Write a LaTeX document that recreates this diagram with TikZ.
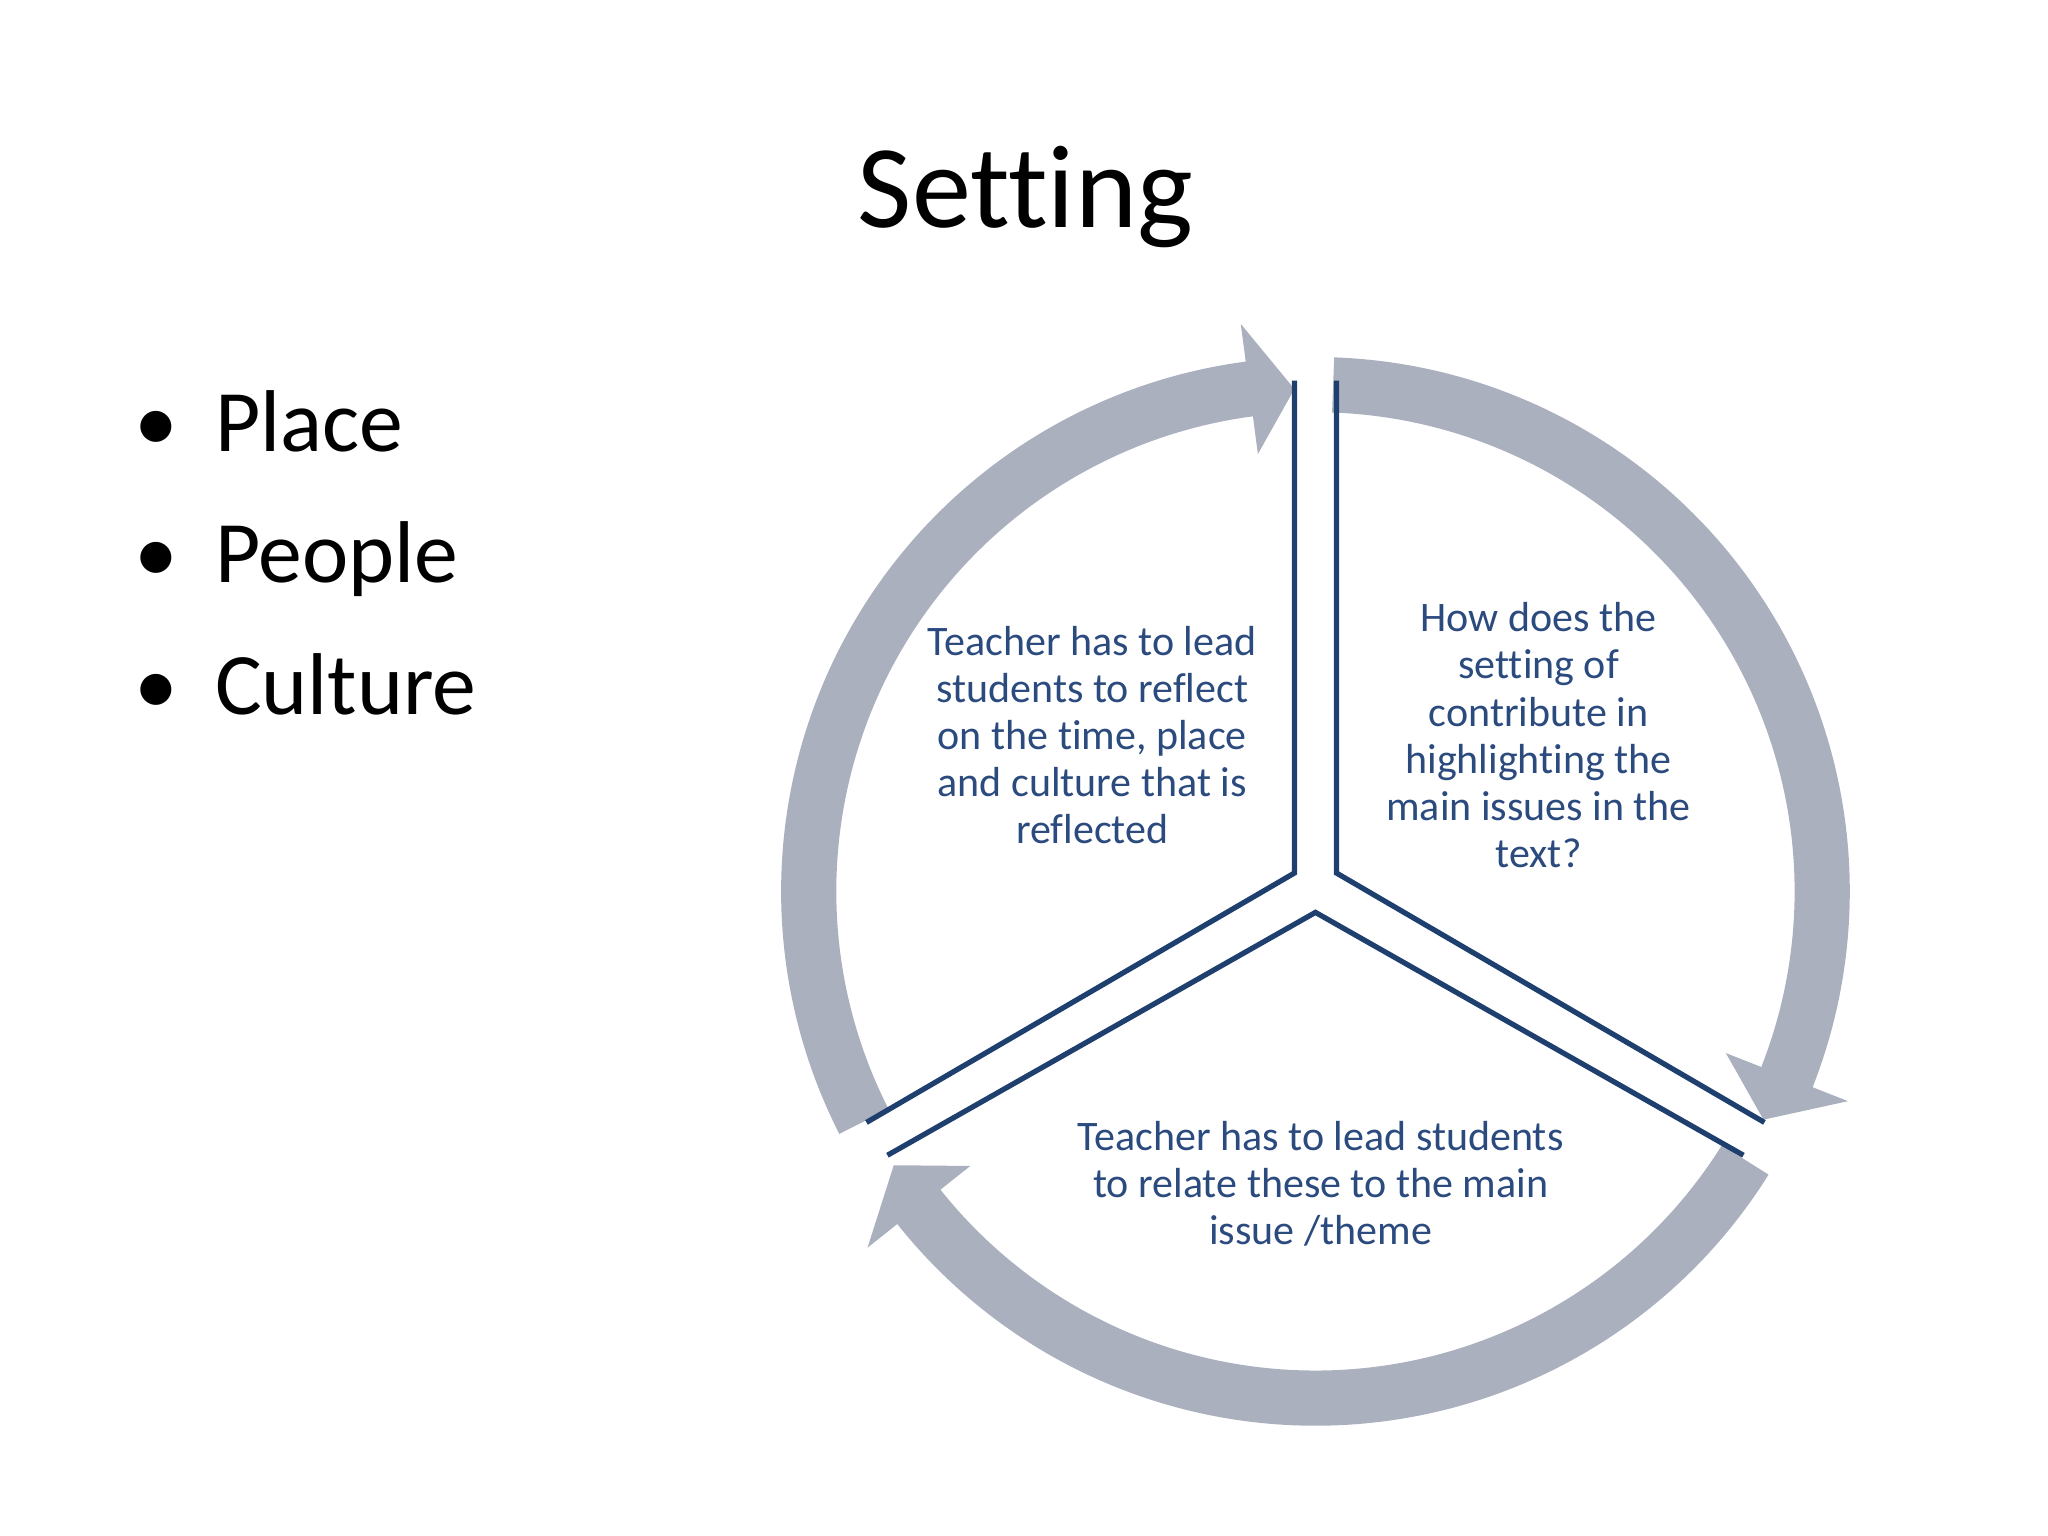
\documentclass[tikz,border=0pt]{standalone}
\usepackage{fontspec}
\usetikzlibrary{calc}
\setmainfont{Carlito}[Ligatures={NoCommon}]
\definecolor{ring}{HTML}{ABB0BF}
\definecolor{dblue}{HTML}{1F3F6F}
\definecolor{tblue}{HTML}{2B4A7E}
\begin{document}
\begin{tikzpicture}[x=0.01cm,y=0.01cm,
  ringarc/.style={draw=ring,line width=42*0.2846pt},
  head/.style={fill=ring,draw=none},
  divider/.style={draw=dblue,line width=4*0.2846pt,line join=miter},
  bodytext/.style={text=tblue,align=center,font=\fontsize{9.1}{10.2}\selectfont},
  bullet/.style={anchor=base west,font=\fontsize{19}{24}\selectfont}]
\useasboundingbox (0,0) rectangle (1560,1170);
\coordinate (c) at (1002,491);
% arcs
\draw[ringarc] ($(c)+(207:386)$) arc[start angle=207,end angle=97,radius=386];
\fill[head] ($(c)+(97.5:336)$) -- ($(c)+(97.5:436)$) -- ($(c)+(92.4:383)$) -- cycle;
\draw[ringarc] ($(c)+(88:386)$) arc[start angle=88,end angle=-22,radius=386];
\fill[head] ($(c)+(-21.5:336)$) -- ($(c)+(-21.5:436)$) -- ($(c)+(-27:383)$) -- cycle;
\draw[ringarc] ($(c)+(-32:386)$) arc[start angle=-32,end angle=-142,radius=386];
\fill[head] ($(c)+(-141.5:336)$) -- ($(c)+(-141.5:436)$) -- ($(c)+(-147:383)$) -- cycle;
% dividers
\coordinate (a1) at (986,880); \coordinate (a2) at (986,505); \coordinate (a3) at (660,315);
\coordinate (b1) at (1018,880); \coordinate (b2) at (1018,505); \coordinate (b3) at (1344,315);
\coordinate (d1) at (676,290); \coordinate (d2) at (1002,475); \coordinate (d3) at (1328,290);
\draw[divider] (a1) -- (a2) -- (a3);
\draw[divider] (b1) -- (b2) -- (b3);
\draw[divider] (d1) -- (d2) -- (d3);
% texts
\node[bodytext] (t1) at (832,610) {Teacher has to lead\\students to reflect\\on the time, place\\and culture that is\\reflected};
\node[bodytext] (t2) at (1172,610) {How does the\\setting of\\contribute in\\highlighting the\\main issues in the\\text?};
\node[bodytext] (t3) at (1006,268) {Teacher has to lead students\\to relate these to the main\\issue /theme};
\node[font=\fontsize{25.6}{30}\selectfont] (title) at (781,1020) {Setting};
\node[bullet] (p1) at (90,826) {•\hspace{8pt}Place};
\node[bullet] (p2) at (90,726) {•\hspace{8pt}People};
\node[bullet] (p3) at (90,626) {•\hspace{8pt}Culture};
\end{tikzpicture}
\end{document}
